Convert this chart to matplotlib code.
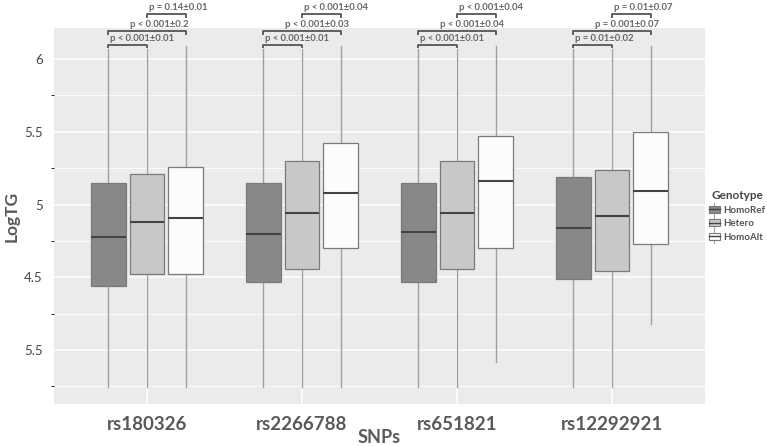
import matplotlib
matplotlib.use("Agg")
import matplotlib.pyplot as plt
from matplotlib.legend_handler import HandlerBase
from matplotlib.patches import Rectangle
from matplotlib.lines import Line2D
from matplotlib.ticker import MultipleLocator
from matplotlib.transforms import ScaledTranslation

plt.rcParams["font.family"] = ["Lato", "DejaVu Sans"]

# ==========================================================
# DATA
# ==========================================================
snps = ["rs180326", "rs2266788", "rs651821", "rs12292921"]
genotypes = ["HomoRef", "Hetero", "HomoAlt"]

# one row per SNP, one column per genotype
q1 = [[4.44, 4.52, 4.52],
      [4.47, 4.56, 4.70],
      [4.47, 4.56, 4.70],
      [4.49, 4.54, 4.73]]
med = [[4.78, 4.88, 4.91],
       [4.80, 4.94, 5.08],
       [4.81, 4.94, 5.16],
       [4.84, 4.92, 5.09]]
q3 = [[5.15, 5.21, 5.26],
      [5.15, 5.30, 5.42],
      [5.15, 5.30, 5.47],
      [5.19, 5.24, 5.50]]
whis_lo = [[3.745, 3.745, 3.745],
           [3.745, 3.745, 3.745],
           [3.745, 3.745, 3.915],
           [3.745, 3.745, 4.18]]
whis_hi = [[6.07, 6.07, 6.09],
           [6.07, 6.07, 6.09],
           [6.07, 6.07, 6.09],
           [6.07, 6.07, 6.09]]

# p-value annotations: (Ref vs Het, Ref vs Alt, Het vs Alt)
p_labels = [["p < 0.001\u00b10.01", "p < 0.001\u00b10.2", "p = 0.14\u00b10.01"],
            ["p < 0.001\u00b10.01", "p < 0.001\u00b10.03", "p < 0.001\u00b10.04"],
            ["p < 0.001\u00b10.01", "p < 0.001\u00b10.04", "p < 0.001\u00b10.04"],
            ["p = 0.01\u00b10.02", "p = 0.001\u00b10.07", "p = 0.01\u00b10.07"]]

ytick_vals = [4.0, 4.5, 5.0, 5.5, 6.0]
ytick_labels = ["5.5", "4.5", "5", "5.5", "6"]

# ==========================================================
# STYLE
# ==========================================================
fills = {"HomoRef": "#888888", "Hetero": "#c8c8c8", "HomoAlt": "#fcfcfc"}
edge_col = "#7a7a7a"
whisk_col = "#a0a0a0"
med_col = "#444444"
text_col = "#595959"
offsets = [-0.25, 0.0, 0.25]
box_w = 0.225
# small horizontal nudges (px) of the SNP labels, as in the original
label_nudge = [-9, -2, -3, 8]


class BoxKeyHandler(HandlerBase):
    def __init__(self, face):
        super().__init__()
        self.face = face

    def create_artists(self, legend, orig_handle, xdescent, ydescent,
                       width, height, fontsize, trans):
        cx = width / 2 - xdescent
        vline = Line2D([cx, cx], [-ydescent - 2, -ydescent + height + 2],
                       color=whisk_col, lw=0.8, transform=trans)
        rect = Rectangle((-xdescent, -ydescent), width, height,
                         facecolor=self.face, edgecolor=edge_col, lw=0.8,
                         transform=trans)
        mline = Line2D([-xdescent, -xdescent + width],
                       [-ydescent + height / 2] * 2,
                       color=med_col, lw=1.0, transform=trans)
        return [vline, rect, mline]


fig = plt.figure(figsize=(7.67, 4.46), dpi=100)
ax = fig.add_axes([54 / 767, 42 / 446, 651 / 767, 376 / 446])
ax.set_facecolor("#ebebeb")

for i, snp in enumerate(snps):
    stats = []
    pos = []
    for j, g in enumerate(genotypes):
        stats.append(dict(med=med[i][j], q1=q1[i][j], q3=q3[i][j],
                          whislo=whis_lo[i][j], whishi=whis_hi[i][j],
                          fliers=[]))
        pos.append(i + offsets[j])
    bp = ax.bxp(stats, positions=pos, widths=box_w, patch_artist=True,
                showcaps=False, showfliers=False, manage_ticks=False,
                boxprops=dict(edgecolor=edge_col, linewidth=0.9),
                whiskerprops=dict(color=whisk_col, linewidth=1.0),
                medianprops=dict(color=med_col, linewidth=1.5))
    for patch, g in zip(bp["boxes"], genotypes):
        patch.set_facecolor(fills[g])
    for art in bp["boxes"] + bp["medians"]:
        art.set_zorder(3)
    for art in bp["whiskers"]:
        art.set_zorder(2)

    # significance brackets
    xr, xh, xa = (i + o for o in offsets)
    pairs = [(xr, xh, 6.098), (xr, xa, 6.192), (xh, xa, 6.306)]
    leg = 0.024
    for (x0, x1, yb) in pairs:
        ax.plot([x0, x0, x1, x1], [yb - leg, yb, yb, yb - leg],
                color="#555555", lw=1.3, clip_on=False, zorder=4,
                solid_capstyle="butt")
    text_x = [xr + 0.01, xr + 0.142, xh + 0.015]
    text_y = [6.144, 6.24, 6.357]
    for lab, tx, ty in zip(p_labels[i], text_x, text_y):
        ax.text(tx, ty, lab, ha="left", va="center", fontsize=6.8,
                fontweight="bold", color="#666666", clip_on=False)

ax.set_xlim(-0.6, 3.6)
ax.set_ylim(3.629, 6.213)

ax.set_xticks(range(len(snps)))
ax.set_xticklabels(snps, fontsize=13.5, fontweight="bold", color=text_col)
for lab, dx in zip(ax.get_xticklabels(), label_nudge):
    lab.set_transform(lab.get_transform() +
                      ScaledTranslation(dx / 100, 0, fig.dpi_scale_trans))
ax.set_yticks(ytick_vals)
ax.set_yticklabels(ytick_labels, fontsize=9.5, color="#444444")
ax.yaxis.set_minor_locator(MultipleLocator(0.25))
ax.tick_params(axis="both", length=0, pad=8)
ax.tick_params(axis="x", pad=9)

ax.grid(True, which="major", color="white", linewidth=1.1)
ax.grid(True, which="minor", axis="y", color="white", linewidth=0.6)
ax.set_axisbelow(True)
for s in ax.spines.values():
    s.set_visible(False)

ax.set_ylabel("LogTG", fontsize=12.5, fontweight="bold", color=text_col,
              labelpad=3)
ax.set_xlabel("SNPs", fontsize=13, fontweight="bold", color=text_col,
              labelpad=-3)

handles = [Rectangle((0, 0), 1, 1) for _ in genotypes]
leg = fig.legend(handles, genotypes, title="Genotype",
                 loc="center left", bbox_to_anchor=(709 / 767, 1 - 216 / 446),
                 frameon=False, handlelength=1.1, handleheight=0.75,
                 handletextpad=0.35, labelspacing=0.45, borderaxespad=0,
                 borderpad=0, prop=dict(size=7, weight="bold"),
                 handler_map={h: BoxKeyHandler(fills[g])
                              for h, g in zip(handles, genotypes)})
leg.get_title().set_fontsize(8.5)
leg.get_title().set_fontweight("bold")
leg.get_title().set_color("#444444")
for t in leg.get_texts():
    t.set_color("#555555")

fig.savefig("out.png", dpi=100)
